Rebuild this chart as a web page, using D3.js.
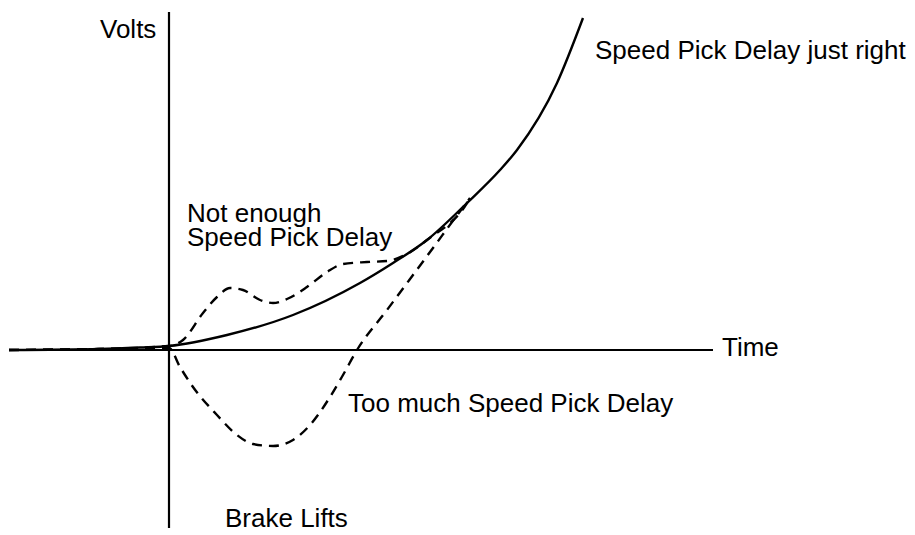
<!DOCTYPE html>
<html>
<head>
<meta charset="utf-8">
<script src="https://cdn.jsdelivr.net/npm/d3@7"></script>
<style>
  html, body { margin: 0; padding: 0; background: #fff; }
  svg { display: block; }
  text { font-family: "Liberation Sans", Arial, Helvetica, sans-serif; font-size: 26px; fill: #000; }
</style>
</head>
<body>
<svg id="chart" width="915" height="535"></svg>
<script>
// Axis extents (time and volts, arbitrary units)
const timeDomain = [-8, 27.2];
const voltDomain = [-8.9, 16.9];

// Speed Pick Delay just right: smooth rise after the brake lifts
const rightTime  = [-8, -3.45, -1.45, 0, 2.9, 6.2, 9.55, 11.2, 12.9, 14.9, 16.55, 17.4, 19.4, 20.7];
const rightVolts = [0, 0.05, 0.125, 0.2, 0.75, 1.75, 3.35, 4.35, 5.5, 7.35, 9.0, 10.0, 13.35, 16.6];

// Not enough Speed Pick Delay: overshoot, dip, then joins the curve
const lowTime  = [-8, -3.45, 0, 0.7, 1.7, 2.4, 3.05, 3.7, 4.55, 5.2, 5.9, 6.9, 7.9, 8.7, 9.9, 10.9, 11.9, 12.9, 14.9, 15.05];
const lowVolts = [0, 0.05, 0.2, 0.5, 1.85, 2.65, 3.1, 3.0, 2.5, 2.35, 2.55, 3.15, 3.9, 4.3, 4.4, 4.45, 4.8, 5.5, 7.35, 7.6];

// Too much Speed Pick Delay: rolls back below zero before climbing
const highTime  = [-8, -3.45, 0, 0.55, 1.2, 2.4, 3.4, 4.2, 5.2, 6.2, 7.05, 8.05, 8.7, 9.4, 10.9, 12.2, 13.2, 14.3, 15.05];
const highVolts = [0, 0.05, 0.1, -0.85, -1.85, -3.25, -4.25, -4.7, -4.8, -4.5, -3.75, -2.35, -1.25, 0, 2.0, 3.75, 5.1, 6.6, 7.6];

// Annotations: text, anchor time, anchor volts
const labelText  = ["Volts", "Speed Pick Delay just right", "Not enough", "Speed Pick Delay", "Too much Speed Pick Delay", "Time", "Brake Lifts"];
const labelTime  = [-3.45, 21.3, 0.9, 0.9, 8.95, 27.65, 2.8];
const labelVolts = [15.6, 14.55, 6.4, 5.2, -3.1, -0.3, -8.85];

const svg = d3.select("#chart");
const x = d3.scaleLinear().domain(timeDomain).range([9, 713]);
const y = d3.scaleLinear().domain(voltDomain).range([528, 12]);

// Axes crossing at the moment the brake lifts
svg.append("line")
  .attr("x1", x(timeDomain[0])).attr("x2", x(timeDomain[1]))
  .attr("y1", y(0)).attr("y2", y(0))
  .attr("stroke", "#000").attr("stroke-width", 2.2);
svg.append("line")
  .attr("x1", x(0)).attr("x2", x(0))
  .attr("y1", y(voltDomain[0])).attr("y2", y(voltDomain[1]))
  .attr("stroke", "#000").attr("stroke-width", 2.2);

const line = d3.line()
  .x(d => x(d[0]))
  .y(d => y(d[1]))
  .curve(d3.curveMonotoneX);

const series = [
  { t: rightTime, v: rightVolts, dash: null },
  { t: lowTime,   v: lowVolts,   dash: "10,7" },
  { t: highTime,  v: highVolts,  dash: "10,7" }
];

svg.selectAll("path.curve")
  .data(series)
  .join("path")
  .attr("class", "curve")
  .attr("d", s => line(s.t.map((t, i) => [t, s.v[i]])))
  .attr("fill", "none")
  .attr("stroke", "#000")
  .attr("stroke-width", 2.4)
  .attr("stroke-dasharray", s => s.dash);

svg.selectAll("text.label")
  .data(labelText.map((s, i) => ({ s, t: labelTime[i], v: labelVolts[i] })))
  .join("text")
  .attr("class", "label")
  .attr("x", d => x(d.t))
  .attr("y", d => y(d.v))
  .text(d => d.s);
</script>
</body>
</html>
